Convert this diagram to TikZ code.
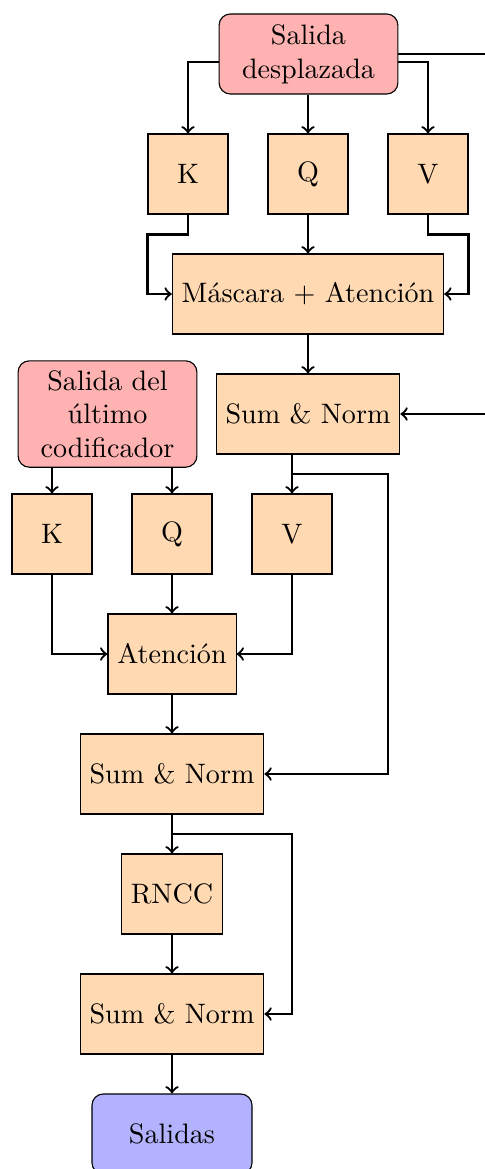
\documentclass[tikz,border=0pt]{standalone}
\begin{document}
\begin{tikzpicture}[x=0.0125cm,y=-0.0125cm,
 box/.style={draw,fill=orange!30,minimum width=1cm,minimum height=1cm},
 io/.style={draw,rounded corners,fill=red!30,text width=2cm,align=center,minimum height=1cm},
 outbox/.style={draw,rounded corners,fill=blue!30,minimum width=2cm,minimum height=1cm},
 arr/.style={->,thick}]
\useasboundingbox (0,0) rectangle (484,1169);
\node[io] (sd) at (308.5,54) {Salida\\desplazada};
\node[box] (k1) at (188,174) {K};
\node[box] (q1) at (308,174) {Q};
\node[box] (v1) at (428,174) {V};
\node[box] (mask) at (308,294) {Máscara + Atención};
\node[box] (sn1) at (308,414) {Sum \& Norm};
\node[io] (enc) at (107.5,414) {Salida del\\último\\codificador};
\node[box] (k2) at (52,534) {K};
\node[box] (q2) at (172,534) {Q};
\node[box] (v2) at (292,534) {V};
\node[box] (att) at (172,654) {Atención};
\node[box] (sn2) at (172,774) {Sum \& Norm};
\node[box] (rncc) at (172,894) {RNCC};
\node[box] (sn3) at (172,1014) {Sum \& Norm};
\node[outbox] (outn) at (172,1134) {Salidas};
\coordinate (fb) at (540,54);
\coordinate (r1) at (388,474);
\coordinate (r2) at (292,834);
% top block
\draw[arr] ([yshift=-0.1cm]sd.west) -| (k1.north);
\draw[arr] ([yshift=-0.1cm]sd.east) -| (v1.north);
\draw[arr] (sd.south -| q1.north) -- (q1.north);
\draw[arr] (sd.east) -- (fb) |- (sn1.east);
\draw[arr] (k1.south) -- ++(0,20) -| (k1.west |- mask.west) -- (mask.west);
\draw[arr] (v1.south) -- ++(0,20) -| (v1.east |- mask.east) -- (mask.east);
\draw[arr] (q1) -- (mask);
\draw[arr] (mask) -- (sn1);
% middle block
\draw[arr] (enc.south -| k2.north) -- (k2.north);
\draw[arr] (enc.south -| q2.north) -- (q2.north);
\draw[arr] (sn1.south -| v2.north) -- (v2.north);
\draw[arr] (sn1.south -| v2.north) |- (r1) |- (sn2.east);
\draw[arr] (k2.south) |- (att.west);
\draw[arr] (v2.south) |- (att.east);
\draw[arr] (q2) -- (att);
\draw[arr] (att) -- (sn2);
% bottom block
\draw[arr] (sn2) -- (rncc);
\draw[arr] (sn2.south) |- (r2) |- (sn3.east);
\draw[arr] (rncc) -- (sn3);
\draw[arr] (sn3) -- (outn);
\end{tikzpicture}
\end{document}
